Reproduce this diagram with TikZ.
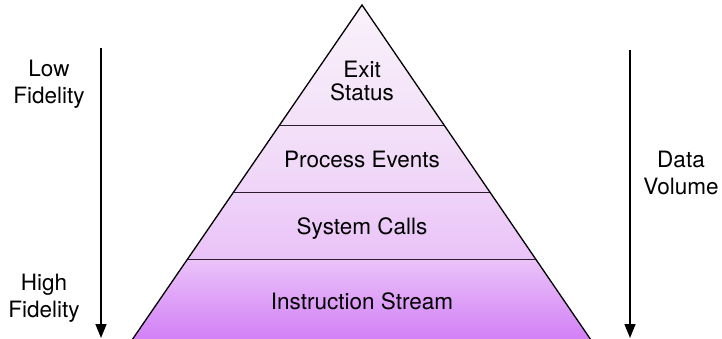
\documentclass[tikz,border=0pt]{standalone}
\usepackage{fontspec}
\setmainfont{TeX Gyre Heros}
\usetikzlibrary{arrows.meta,calc}

\definecolor{ptop}{HTML}{F9F1FB}
\definecolor{pmidA}{HTML}{F3E1F8}
\definecolor{pmidB}{HTML}{EFD3F8}
\definecolor{pmidC}{HTML}{EAC2F8}
\definecolor{pbot}{HTML}{D27FF7}
\definecolor{divline}{HTML}{2A1E2E}

% vertical fill of the pyramid: the path box spans 25bp..75bp
\pgfdeclareverticalshading{pyrshade}{100bp}{%
  color(0bp)=(pbot); color(25bp)=(pbot); color(36.9bp)=(pmidC);
  color(46.9bp)=(pmidB); color(57bp)=(pmidA); color(75bp)=(ptop);
  color(100bp)=(ptop)}

\begin{document}
\begin{tikzpicture}[x=1pt,y=-1pt,
  txt/.style={font=\fontsize{22.5}{23}\selectfont, align=center, inner sep=0pt},
  sidetxt/.style={font=\fontsize{22.5}{27}\selectfont, align=center, inner sep=0pt},
  outline/.style={draw=black, line width=1.3pt, line join=miter},
  divider/.style={draw=divline, line width=1.2pt},
  scalearrow/.style={draw=black, line width=1.5pt, -{Triangle[length=14pt,width=11pt]}}]
  \useasboundingbox (0,0) rectangle (722,339);

  % pyramid corners
  \coordinate (apex) at (362,5);
  \coordinate (bl) at (132,340);
  \coordinate (br) at (591,340);

  \path[shading=pyrshade] (apex) -- (br) -- (bl) -- cycle;

  % layer boundaries
  \coordinate (d1l) at ($(bl)!0.6406!(apex)$);
  \coordinate (d1r) at ($(br)!0.6406!(apex)$);
  \coordinate (d2l) at ($(bl)!0.4406!(apex)$);
  \coordinate (d2r) at ($(br)!0.4406!(apex)$);
  \coordinate (d3l) at ($(bl)!0.2403!(apex)$);
  \coordinate (d3r) at ($(br)!0.2403!(apex)$);
  \draw[divider] (d1l) -- (d1r);
  \draw[divider] (d2l) -- (d2r);
  \draw[divider] (d3l) -- (d3r);

  \draw[outline] (apex) -- (br) -- (bl) -- cycle;

  % layer labels
  \node[txt] (exit) at (362,81) {Exit\\Status};
  \node[txt] (proc) at (362,159.5) {Process Events};
  \node[txt] (sys) at (362,229) {System Calls};
  \node[txt] (instr) at (362,301.5) {Instruction Stream};

  % fidelity scale
  \node[sidetxt] (low) at (49,84) {Low\\Fidelity};
  \node[sidetxt] (high) at (44,298) {High\\Fidelity};
  \coordinate (fidtop) at (101,48);
  \coordinate (fidbot) at (101,338);
  \draw[scalearrow] (fidtop) -- (fidbot);

  % data volume scale
  \node[sidetxt] (vol) at (681,173) {Data\\Volume};
  \coordinate (voltop) at (630,50);
  \coordinate (volbot) at (630,338);
  \draw[scalearrow] (voltop) -- (volbot);
\end{tikzpicture}
\end{document}
